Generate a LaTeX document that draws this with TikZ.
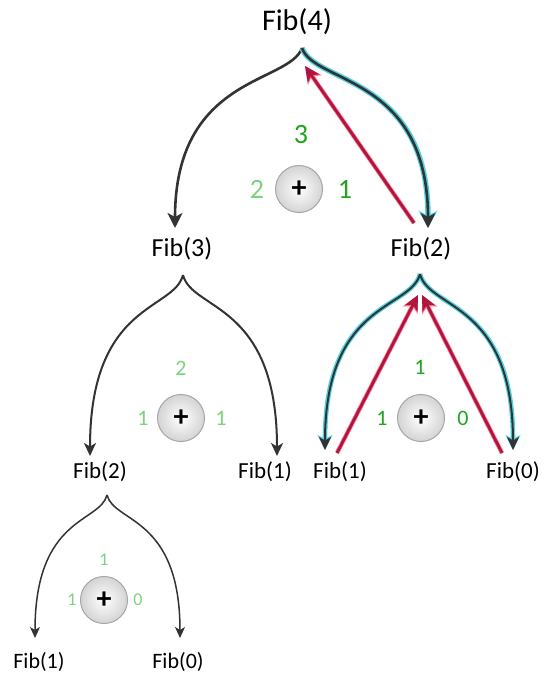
\documentclass[tikz,border=0pt]{standalone}
\usepackage{fontspec}
\setmainfont{Carlito}
\usetikzlibrary{arrows.meta,shadings}
\definecolor{edge}{HTML}{333333}
\definecolor{glowc}{HTML}{4FD3E3}
\definecolor{redc}{HTML}{B01540}
\definecolor{redglow}{HTML}{FF7A92}
\definecolor{dgreen}{HTML}{1FA51F}
\definecolor{lgreen}{HTML}{7DD27D}
\tikzset{
  fibA/.style={font=\fontsize{30}{30}\selectfont, inner sep=0pt},
  fibB/.style={font=\fontsize{26}{26}\selectfont, inner sep=0pt},
  fibC/.style={font=\fontsize{23}{23}\selectfont, inner sep=0pt},
  fibD/.style={font=\fontsize{22}{22}\selectfont, inner sep=0pt},
  plusbox/.style={circle, minimum size=47pt, inner sep=0pt, draw=black!35, line width=1pt,
     inner color=white, outer color=black!17, font=\fontsize{30}{30}\selectfont\bfseries},
  numA/.style={font=\fontsize{28}{28}\selectfont, inner sep=0pt},
  numB/.style={font=\fontsize{22}{22}\selectfont, inner sep=0pt},
  numC/.style={font=\fontsize{18}{18}\selectfont, inner sep=0pt},
  tipA/.style={-{Stealth[length=15pt,width=15pt,inset=4pt]}},
  tipB/.style={-{Stealth[length=13pt,width=12pt,inset=3.5pt]}},
  tipC/.style={-{Stealth[length=11pt,width=10pt,inset=3pt]}},
  edgeA/.style={draw=edge, line width=2.6pt, tipA},
  edgeB/.style={draw=edge, line width=2pt, tipB},
  edgeC/.style={draw=edge, line width=1.5pt, tipC},
  glowA/.style={draw=glowc, line width=5.4pt, -{Stealth[length=17pt,width=18pt,inset=4.5pt]}},
  glowB/.style={draw=glowc, line width=4.6pt, -{Stealth[length=15pt,width=15pt,inset=4pt]}},
  redA/.style={draw=redc, line width=2.8pt, -{Stealth[length=15pt,width=14pt,inset=4pt]}},
  redglowA/.style={draw=redglow, line width=4.4pt, -{Stealth[length=17pt,width=16.5pt,inset=4.5pt]}},
}
\begin{document}
\begin{tikzpicture}[x=1pt,y=-1pt]
\useasboundingbox (0,0) rectangle (547,677);
\fill[white] (0,0) rectangle (547,677);

% nodes
\node[fibA] (f4) at (297,22) {Fib(4)};
\node[fibB] (f3) at (182,249) {Fib(3)};
\node[fibB] (f2r) at (421,249) {Fib(2)};
\node[fibC] (f2l) at (100,472) {Fib(2)};
\node[fibC] (f1m) at (265,472) {Fib(1)};
\node[fibC] (f1r) at (340,472) {Fib(1)};
\node[fibC] (f0r) at (513,472) {Fib(0)};
\node[fibD] (f1b) at (39,662) {Fib(1)};
\node[fibD] (f0b) at (178,662) {Fib(0)};

% cusps and tips
\coordinate (c4) at (302,48);
\coordinate (t3) at (175,228);
\coordinate (t2r) at (428,228);
\coordinate (c3) at (183,275);
\coordinate (t2l) at (90,456);
\coordinate (t1m) at (277,456);
\coordinate (c2r) at (420,274);
\coordinate (t1r) at (325,450);
\coordinate (t0r) at (513,450);
\coordinate (c2l) at (107,495);
\coordinate (t1b) at (35,638);
\coordinate (t0b) at (180,638);

% level 1
\path[edgeA] (c4) .. controls (289,84) and (175,75) .. (t3);
\path[glowA] (c4) .. controls (314,84) and (428,75) .. (t2r);
\path[edgeA] (c4) .. controls (314,84) and (428,75) .. (t2r);
\coordinate (r4s) at (414,223);
\coordinate (r4e) at (305,66);
\path[redglowA] (r4s) -- (r4e);
\path[redA] (r4s) -- (r4e);

\node[numA, text=dgreen] (n3) at (301,135) {3};
\node[plusbox] (p4) at (299,189) {+};
\node[numA, text=lgreen] (n2a) at (257,189) {2};
\node[numA, text=dgreen] (n1a) at (345,189) {1};

% Fib(3) subtree
\path[edgeB] (c3) .. controls (174,311) and (90,302) .. (t2l);
\path[edgeB] (c3) .. controls (192,311) and (277,302) .. (t1m);
\node[numB, text=lgreen] (n2b) at (181,368) {2};
\node[plusbox] (p3) at (181,418) {+};
\node[numB, text=lgreen] (n1b) at (143,418) {1};
\node[numB, text=lgreen] (n1c) at (221,418) {1};

% right Fib(2) subtree
\path[glowB] (c2r) .. controls (410.5,310) and (325,301) .. (t1r);
\path[glowB] (c2r) .. controls (429,310) and (513,301) .. (t0r);
\path[edgeB] (c2r) .. controls (410.5,310) and (325,301) .. (t1r);
\path[edgeB] (c2r) .. controls (429,310) and (513,301) .. (t0r);
\coordinate (r1s) at (337,453);
\coordinate (r1e) at (418,295);
\coordinate (r0s) at (502,453);
\coordinate (r0e) at (422,295);
\path[redglowA] (r1s) -- (r1e);
\path[redglowA] (r0s) -- (r0e);
\path[redA] (r1s) -- (r1e);
\path[redA] (r0s) -- (r0e);
\node[numB, text=dgreen] (n1d) at (420,367) {1};
\node[plusbox] (p2r) at (421,418) {+};
\node[numB, text=dgreen] (n1e) at (382,418) {1};
\node[numB, text=dgreen] (n0a) at (463,418) {0};

% bottom Fib(2) subtree
\path[edgeC] (c2l) .. controls (100,523) and (35,516) .. (t1b);
\path[edgeC] (c2l) .. controls (114,523) and (180,516) .. (t0b);
\node[numC, text=lgreen] (n1f) at (104,560) {1};
\node[plusbox] (p2l) at (104,600) {+};
\node[numC, text=lgreen] (n1g) at (72,600) {1};
\node[numC, text=lgreen] (n0b) at (138,600) {0};
\end{tikzpicture}
\end{document}
